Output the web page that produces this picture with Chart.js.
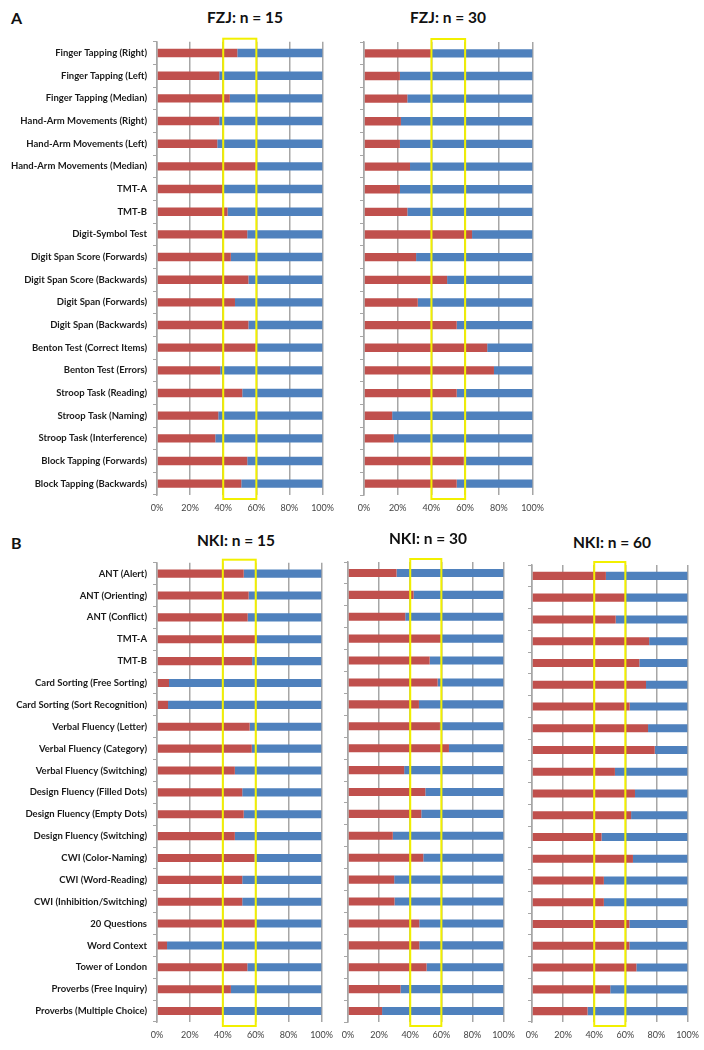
<!DOCTYPE html>
<html>
<head>
<meta charset="utf-8">
<script src="https://cdn.jsdelivr.net/npm/chart.js@4/dist/chart.umd.min.js"></script>
<style>
    body { margin: 0; background: #fff; width: 704px; height: 1050px; position: relative; overflow: hidden; font-family: Lato, 'Liberation Sans', sans-serif; }
    canvas { position: absolute; }
    .titulo { position: absolute; font-weight: bold; font-size: 15.5px; color: #111; transform: translateX(-50%); white-space: nowrap; }
    .painel { position: absolute; font-weight: bold; font-size: 16px; color: #111; }
</style>
</head>
<body>

<div class="painel" style="left:11px; top:8px;">A</div>
<div class="titulo" style="left:245px; top:8px;">FZJ: n = 15</div>
<div class="titulo" style="left:448px; top:8px;">FZJ: n = 30</div>
<canvas id="fzj15" width="342" height="489" style="left:0px; top:30px;"></canvas>
<canvas id="fzj30" width="212" height="485" style="left:340px; top:34px;"></canvas>

<div class="painel" style="left:11px; top:533px;">B</div>
<div class="titulo" style="left:236px; top:531px;">NKI: n = 15</div>
<div class="titulo" style="left:428px; top:529px;">NKI: n = 30</div>
<div class="titulo" style="left:612px; top:533px;">NKI: n = 60</div>
<canvas id="nki15" width="341" height="495" style="left:0px; top:551px;"></canvas>
<canvas id="nki30" width="197" height="492" style="left:326px; top:554px;"></canvas>
<canvas id="nki60" width="197" height="489" style="left:510px; top:557px;"></canvas>

<script>
// Testes - painel A (FZJ)
const fzjTests = [
    'Finger Tapping (Right)', 'Finger Tapping (Left)', 'Finger Tapping (Median)',
    'Hand-Arm Movements (Right)', 'Hand-Arm Movements (Left)', 'Hand-Arm Movements (Median)',
    'TMT-A', 'TMT-B', 'Digit-Symbol Test',
    'Digit Span Score (Forwards)', 'Digit Span Score (Backwards)',
    'Digit Span (Forwards)', 'Digit Span (Backwards)',
    'Benton Test (Correct Items)', 'Benton Test (Errors)',
    'Stroop Task (Reading)', 'Stroop Task (Naming)', 'Stroop Task (Interference)',
    'Block Tapping (Forwards)', 'Block Tapping (Backwards)'
];
const fzj15 = [48.5, 37.6, 44, 37.6, 36.4, 59.8, 40.4, 42.6, 54.5, 44.6,
               55.2, 47.1, 55.2, 59.8, 38.2, 51.5, 37, 35.2, 54.5, 50.9];
const fzj30 = [39.8, 21.3, 25.7, 21.9, 21.3, 27.3, 21.3, 25.7, 64.1, 30.9,
               49.3, 31.9, 55, 73.1, 77.1, 55, 16.7, 17.7, 59.2, 55];

// Testes - painel B (NKI)
const nkiTests = [
    'ANT (Alert)', 'ANT (Orienting)', 'ANT (Conflict)', 'TMT-A', 'TMT-B',
    'Card Sorting (Free Sorting)', 'Card Sorting (Sort Recognition)',
    'Verbal Fluency (Letter)', 'Verbal Fluency (Category)', 'Verbal Fluency (Switching)',
    'Design Fluency (Filled Dots)', 'Design Fluency (Empty Dots)', 'Design Fluency (Switching)',
    'CWI (Color-Naming)', 'CWI (Word-Reading)', 'CWI (Inhibition/Switching)',
    '20 Questions', 'Word Context', 'Tower of London',
    'Proverbs (Free Inquiry)', 'Proverbs (Multiple Choice)'
];
const nki15 = [52.7, 55.7, 55.1, 60.6, 57.8, 7.3, 6.7, 56.3, 57.6, 47.3,
               51.8, 52.7, 47.3, 59.2, 51.8, 51.8, 60, 6.1, 54.9, 44.9, 40];
const nki30 = [31.2, 42.2, 36.8, 60.4, 52.5, 57.6, 45.6, 59.1, 64.9, 36.1,
               49.7, 47.1, 28.8, 48.4, 29.7, 29.9, 45.8, 45.8, 50.5, 33.8, 21.9];
const nki60 = [47.5, 60.4, 53.8, 75.3, 69, 73.3, 62.8, 74.6, 78.9, 53.3,
               66.2, 63.7, 44.7, 64.9, 46.2, 46.2, 62.6, 62.6, 67.1, 50.3, 35.7];

const xTicks = [0, 20, 40, 60, 80, 100];
const faixa = [40, 60];

const VERMELHO = '#c0504d';
const AZUL = '#4f81bd';
const CINZA = '#a6a6a6';

// retângulo amarelo entre 40% e 60%
const faixaPlugin = {
    id: 'faixa',
    afterDatasetsDraw(chart) {
        const { ctx, chartArea, scales } = chart;
        const x0 = scales.x.getPixelForValue(faixa[0]);
        const x1 = scales.x.getPixelForValue(faixa[1]);
        ctx.save();
        ctx.strokeStyle = '#f2f000';
        ctx.lineWidth = 2;
        ctx.strokeRect(x0, chartArea.top - 3, x1 - x0, chartArea.bottom - chartArea.top + 7);
        ctx.restore();
    }
};

function criarGrafico(id, testes, valores, mostrarRotulos, larguraY, padTop) {
    const ctx = document.getElementById(id).getContext('2d');
    new Chart(ctx, {
        type: 'bar',
        data: {
            labels: testes,
            datasets: [
                { data: valores, backgroundColor: VERMELHO, barPercentage: 0.37, categoryPercentage: 1 },
                { data: valores.map(v => 100 - v), backgroundColor: AZUL, barPercentage: 0.37, categoryPercentage: 1 }
            ]
        },
        options: {
            indexAxis: 'y',
            responsive: false,
            animation: false,
            layout: { padding: { top: padTop, right: 14, bottom: 0, left: 0 } },
            plugins: { legend: { display: false }, tooltip: { enabled: false } },
            scales: {
                x: {
                    stacked: true,
                    min: 0,
                    max: 100,
                    afterBuildTicks: s => { s.ticks = xTicks.map(v => ({ value: v })); },
                    afterFit: s => { s.height = 24; },
                    grid: { color: CINZA, lineWidth: 1.5, drawTicks: false },
                    border: { display: false },
                    ticks: {
                        callback: v => v + '%',
                        color: '#444',
                        padding: 8,
                        maxRotation: 0,
                        font: { family: 'Lato', size: 9 }
                    }
                },
                y: {
                    stacked: true,
                    afterFit: s => { s.width = larguraY; },
                    grid: { drawOnChartArea: false, drawTicks: true, tickLength: 4, color: CINZA, lineWidth: 1, offset: true },
                    border: { display: true, color: CINZA, width: 1.5 },
                    ticks: {
                        display: mostrarRotulos,
                        color: '#1a1a1a',
                        padding: 6,
                        autoSkip: false,
                        font: { family: 'Lato', size: 9.5, weight: 'bold' }
                    }
                }
            }
        },
        plugins: [faixaPlugin]
    });
}

criarGrafico('fzj15', fzjTests, fzj15, true, 157, 5);
criarGrafico('fzj30', fzjTests, fzj30, false, 24, 8);
criarGrafico('nki15', nkiTests, nki15, true, 157, 5);
criarGrafico('nki30', nkiTests, nki30, false, 22, 8);
criarGrafico('nki60', nkiTests, nki60, false, 22, 8);
</script>
</body>
</html>
